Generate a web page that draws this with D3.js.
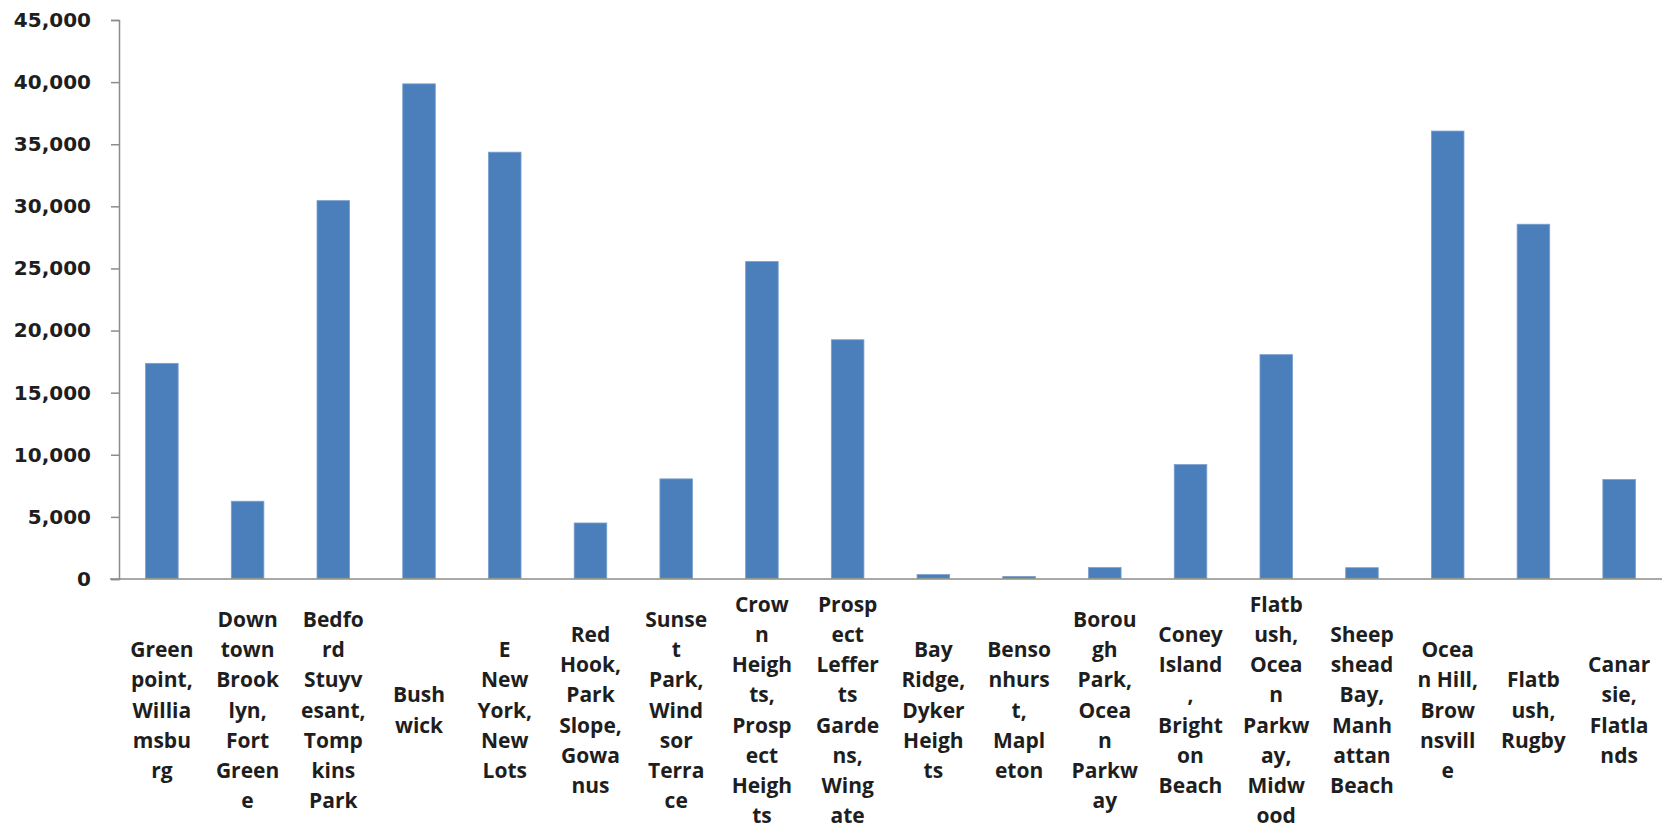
<!DOCTYPE html>
<html>
<head>
<meta charset="utf-8">
<script src="https://cdn.jsdelivr.net/npm/d3@7"></script>
<style>
  html, body { margin: 0; padding: 0; background: #ffffff; }
  svg { display: block; }
</style>
</head>
<body>
<svg id="chart" width="1669" height="833"></svg>
<script>
// Category labels, wrapped exactly as displayed in the reference
const categories = [
  "Green\npoint,\nWillia\nmsbu\nrg",
  "Down\ntown\nBrook\nlyn,\nFort\nGreen\ne",
  "Bedfo\nrd\nStuyv\nesant,\nTomp\nkins\nPark",
  "Bush\nwick",
  "E\nNew\nYork,\nNew\nLots",
  "Red\nHook,\nPark\nSlope,\nGowa\nnus",
  "Sunse\nt\nPark,\nWind\nsor\nTerra\nce",
  "Crow\nn\nHeigh\nts,\nProsp\nect\nHeigh\nts",
  "Prosp\nect\nLeffer\nts\nGarde\nns,\nWing\nate",
  "Bay\nRidge,\nDyker\nHeigh\nts",
  "Benso\nnhurs\nt,\nMapl\neton",
  "Borou\ngh\nPark,\nOcea\nn\nParkw\nay",
  "Coney\nIsland\n,\nBright\non\nBeach",
  "Flatb\nush,\nOcea\nn\nParkw\nay,\nMidw\nood",
  "Sheep\nshead\nBay,\nManh\nattan\nBeach",
  "Ocea\nn Hill,\nBrow\nnsvill\ne",
  "Flatb\nush,\nRugby",
  "Canar\nsie,\nFlatla\nnds"
];

// Main series (blue)
const mainValues = [17300, 6200, 30400, 39800, 34300, 4450, 8000, 25500, 19200,
                    300, 150, 860, 9150, 18000, 850, 36000, 28500, 7950];
// Tiny second series (green sliver at the base of each bar)
const minorValues = [60, 60, 60, 60, 60, 60, 60, 60, 60,
                     60, 60, 60, 60, 60, 60, 60, 60, 60];

const yTicks = [0, 5000, 10000, 15000, 20000, 25000, 30000, 35000, 40000, 45000];

// ---- layout ----
const svg = d3.select("#chart");
const plotLeft = 119, plotRight = 1662, plotTop = 20, plotBottom = 579;

const x = d3.scaleBand()
  .domain(categories)
  .range([plotLeft, plotRight])
  .paddingInner(0.62)
  .paddingOuter(0.31);

const y = d3.scaleLinear()
  .domain([0, 45000])
  .range([plotBottom, plotTop]);

const fmt = d3.format(",");

// Y axis
const yAxis = d3.axisLeft(y)
  .tickValues(yTicks)
  .tickSize(8)
  .tickPadding(20)
  .tickFormat(d => fmt(d));

const gy = svg.append("g")
  .attr("transform", `translate(${plotLeft},0)`)
  .call(yAxis);
gy.select(".domain").attr("stroke", "#8c8c8c").attr("stroke-width", 1.5);
gy.selectAll(".tick line").attr("stroke", "#8c8c8c").attr("stroke-width", 1.5);
gy.selectAll(".tick text")
  .attr("fill", "#1e1e1e")
  .style("font-family", "'DejaVu Sans', sans-serif")
  .style("font-weight", "bold")
  .style("font-size", "20px");

// Bars (stacked: green sliver below blue)
const stackData = categories.map((c, i) => ({ c, minor: minorValues[i], main: mainValues[i] }));

svg.append("g").selectAll("rect.main")
  .data(stackData)
  .join("rect")
  .attr("class", "main")
  .attr("x", d => x(d.c))
  .attr("width", x.bandwidth())
  .attr("y", d => y(d.minor + d.main))
  .attr("height", d => y(d.minor) - y(d.minor + d.main))
  .attr("fill", "#4b7fbc")
  .attr("stroke", "#7a9fcf")
  .attr("stroke-width", 0.8);

svg.append("g").selectAll("rect.minor")
  .data(stackData)
  .join("rect")
  .attr("class", "minor")
  .attr("x", d => x(d.c))
  .attr("width", x.bandwidth())
  .attr("y", d => y(d.minor))
  .attr("height", d => y(0) - y(d.minor))
  .attr("fill", "#9bbb59");

// X axis line
const xAxis = d3.axisBottom(x).tickSize(0).tickFormat("");
const gx = svg.append("g")
  .attr("transform", `translate(0,${plotBottom})`)
  .call(xAxis);
gx.select(".domain").attr("stroke", "#8c8c8c").attr("stroke-width", 1.5)
  .attr("d", `M${plotLeft - 9},0H${plotRight}`);

// Category labels
const lineH = 30.2, midY = 710, capHalf = 7.5;
const labels = svg.append("g")
  .style("font-family", "'Open Sans', sans-serif")
  .style("font-weight", "bold")
  .style("font-size", "21px")
  .attr("fill", "#1e1e1e")
  .attr("text-anchor", "middle");

categories.forEach(c => {
  const lines = c.split("\n");
  const n = lines.length;
  const cx = x(c) + x.bandwidth() / 2;
  const t = labels.append("text");
  lines.forEach((ln, i) => {
    t.append("tspan")
      .attr("x", cx)
      .attr("y", midY + capHalf + (i - (n - 1) / 2) * lineH)
      .text(ln);
  });
});
</script>
</body>
</html>
